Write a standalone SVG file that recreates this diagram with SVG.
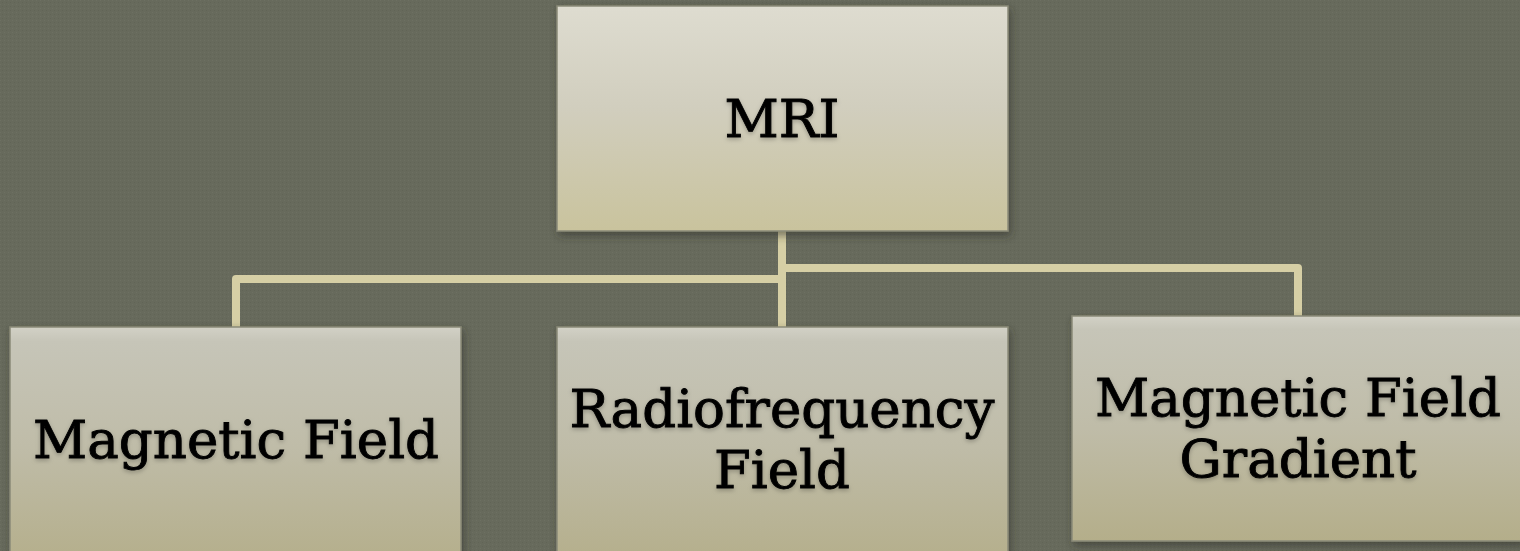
<svg xmlns="http://www.w3.org/2000/svg" width="1520" height="551" viewBox="0 0 1520 551">
  <defs>
    <pattern id="dots" width="4" height="4" patternUnits="userSpaceOnUse">
      <rect width="4" height="4" fill="#676a5c"/>
      <rect x="0" y="0" width="1" height="1" fill="#6d7062"/>
      <rect x="2" y="2" width="1" height="1" fill="#616456"/>
    </pattern>
    <linearGradient id="gTop" x1="0" y1="0" x2="0" y2="1">
      <stop offset="0" stop-color="#dedcd0"/>
      <stop offset="0.45" stop-color="#d1cebe"/>
      <stop offset="1" stop-color="#c9c39d"/>
    </linearGradient>
    <linearGradient id="gLow" x1="0" y1="0" x2="0" y2="1">
      <stop offset="0" stop-color="#d2d1c6"/>
      <stop offset="0.06" stop-color="#c6c5b8"/>
      <stop offset="0.5" stop-color="#bfbca8"/>
      <stop offset="1" stop-color="#b4ae8a"/>
    </linearGradient>
    <filter id="shadow" x="-10%" y="-10%" width="120%" height="130%">
      <feDropShadow dx="2" dy="4" stdDeviation="4" flood-color="#2e2f28" flood-opacity="0.55"/>
    </filter>
    <filter id="tshadow" x="-5%" y="-20%" width="110%" height="150%">
      <feDropShadow dx="0" dy="2" stdDeviation="2" flood-color="#000" flood-opacity="0.25"/>
    </filter>
  </defs>
  <style>
    .box { stroke: #8a8a78; stroke-width: 1.5; filter: url(#shadow); }
    .lbl { font-family: "DejaVu Serif", serif; font-size: 53px; fill: #000; stroke: #000; stroke-width: 0.9; text-anchor: middle; filter: url(#tshadow); }
    .conn { fill: none; stroke: #d6cfa5; stroke-width: 8; stroke-linejoin: round; }
  </style>
  <rect width="1520" height="551" fill="url(#dots)"/>

  <g id="connectors">
    <path class="conn" d="M782 231 V327"/>
    <path class="conn" d="M782 279 H236 V327"/>
    <path class="conn" d="M782 268 H1298 V316"/>
  </g>

  <g id="node-mri">
    <rect class="box" x="557" y="6" width="451" height="225" fill="url(#gTop)"/>
    <text class="lbl" x="782" y="137">MRI</text>
  </g>

  <g id="node-magnetic-field">
    <rect class="box" x="10" y="327" width="451" height="240" fill="url(#gLow)"/>
    <text class="lbl" x="236" y="458">Magnetic Field</text>
  </g>

  <g id="node-radiofrequency-field">
    <rect class="box" x="557" y="327" width="451" height="240" fill="url(#gLow)"/>
    <text class="lbl" x="782" y="427">Radiofrequency</text>
    <text class="lbl" x="782" y="488">Field</text>
  </g>

  <g id="node-magnetic-field-gradient">
    <rect class="box" x="1072" y="316" width="451" height="225" fill="url(#gLow)"/>
    <text class="lbl" x="1298" y="416">Magnetic Field</text>
    <text class="lbl" x="1298" y="477">Gradient</text>
  </g>
</svg>
